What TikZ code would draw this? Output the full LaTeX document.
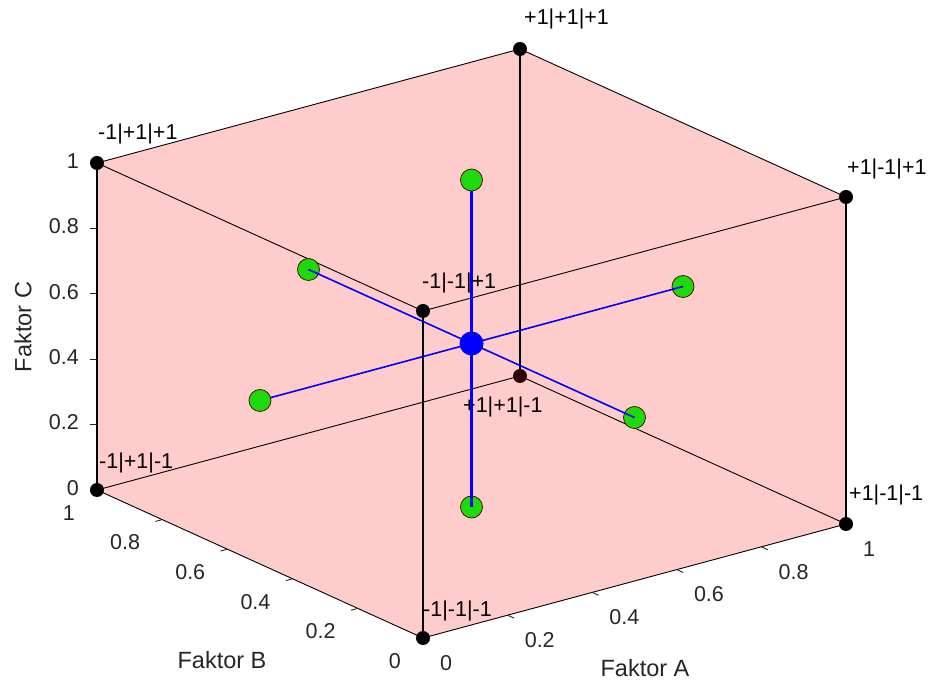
\documentclass[tikz,border=0pt]{standalone}
\usepackage{fontspec}
\setmainfont{Liberation Sans}
\definecolor{pinkface}{RGB}{255,204,204}
\definecolor{axgray}{RGB}{38,38,38}
\definecolor{greenfill}{RGB}{30,218,10}
\definecolor{greenedge}{RGB}{70,25,0}
\definecolor{hiddendot}{RGB}{45,5,5}
\begin{document}
\begin{tikzpicture}[x={(423pt,114pt)}, y={(-326pt,148pt)}, z={(0pt,327pt)},
  edge/.style={black, line width=0.9pt},
  vedge/.style={black, line width=1.3pt},
  tickmark/.style={axgray, line width=0.9pt},
  ticklabel/.style={text=axgray, inner sep=0pt, font=\fontsize{21.5pt}{24pt}\selectfont},
  axislabel/.style={text=axgray, inner sep=0pt, font=\fontsize{23.5pt}{26pt}\selectfont},
  vlabel/.style={text=black, inner sep=0pt, anchor=west, font=\fontsize{21.5pt}{24pt}\selectfont},
  vdot/.style={circle, fill=black, inner sep=0pt, minimum size=14pt},
  gdot/.style={circle, fill=greenfill, draw=greenedge, line width=0.8pt, inner sep=0pt, minimum size=22pt},
  cdot/.style={circle, fill=blue, inner sep=0pt, minimum size=24pt},
  blueline/.style={draw=blue, line width=1.6pt}]
\useasboundingbox (-423pt,-47pt) rectangle ++(931pt,685pt);

% cube vertices (A,B,C)
\coordinate (v000) at (0,0,0);
\coordinate (v100) at (1,0,0);
\coordinate (v010) at (0,1,0);
\coordinate (v110) at (1,1,0);
\coordinate (v001) at (0,0,1);
\coordinate (v101) at (1,0,1);
\coordinate (v011) at (0,1,1);
\coordinate (v111) at (1,1,1);

% star points
\coordinate (sc) at (0.5,0.5,0.5);
\coordinate (pup) at (0.5,0.5,1);
\coordinate (pdown) at (0.5,0.5,0);
\coordinate (sleft) at (0,0.5,0.5);
\coordinate (sright) at (1,0.5,0.5);
\coordinate (sback) at (0.5,1,0.5);
\coordinate (sfront) at (0.5,0,0.5);

% translucent faces
\fill[pinkface] (v011) -- (v111) -- (v101) -- (v100) -- (v000) -- (v010) -- cycle;

% edges
\draw[edge] (v011) -- (v111) -- (v101) -- (v001) -- cycle;
\draw[edge] (v010) -- (v110) -- (v100) -- (v000) -- cycle;
\draw[vedge] (v000) -- (v001);
\draw[vedge] (v100) -- (v101);
\draw[vedge] (v010) -- (v011);
\draw[vedge] (v110) -- (v111);

% ticks and tick labels
\foreach \t/\l [count=\i] in {0/0,0.2/0.2,0.4/0.4,0.6/0.6,0.8/0.8,1/1} {
  \coordinate (tc\i) at (0,1,\t);
  \coordinate (tb\i) at (0,\t,0);
  \coordinate (ta\i) at (\t,0,0);
  \draw[tickmark] (tc\i) -- ++(-7pt,0pt);
  \draw[tickmark] (tb\i) -- ++(-6.8pt,-1.8pt);
  \draw[tickmark] (ta\i) -- ++(6.4pt,-2.9pt);
  \node[ticklabel, anchor=east, xshift=-18pt, yshift=2pt] (lc\i) at (tc\i) {\l};
  \node[ticklabel, anchor=east, xshift=-22pt, yshift=-23pt] (lb\i) at (tb\i) {\l};
  \node[ticklabel, anchor=west, xshift=17pt, yshift=-25pt] (la\i) at (ta\i) {\l};
}

% axis labels
\node[axislabel, rotate=90] (labC) at (-400pt,311pt) {Faktor C};
\node[axislabel] (labB) at (-201pt,-22pt) {Faktor B};
\node[axislabel] (labA) at (222pt,-30pt) {Faktor A};

% vertex dots
\node[vdot] (d000) at (v000) {};
\node[vdot] (d100) at (v100) {};
\node[vdot] (d010) at (v010) {};
\node[vdot, fill=hiddendot] (d110) at (v110) {};
\node[vdot] (d001) at (v001) {};
\node[vdot] (d101) at (v101) {};
\node[vdot] (d011) at (v011) {};
\node[vdot] (d111) at (v111) {};

% vertex labels
\node[vlabel, xshift=4pt, yshift=30pt] (l111) at (v111) {+1|+1|+1};
\node[vlabel, xshift=1pt, yshift=29pt] (l011) at (v011) {-1|+1|+1};
\node[vlabel, xshift=1pt, yshift=28pt] (l101) at (v101) {+1|-1|+1};
\node[vlabel, xshift=-1pt, yshift=28pt] (l001) at (v001) {-1|-1|+1};
\node[vlabel, xshift=-57pt, yshift=-31pt] (l110) at (v110) {+1|+1|-1};
\node[vlabel, xshift=2pt, yshift=27pt] (l010) at (v010) {-1|+1|-1};
\node[vlabel, xshift=3pt, yshift=29pt] (l100) at (v100) {+1|-1|-1};
\node[vlabel, xshift=0pt, yshift=27pt] (l000) at (v000) {-1|-1|-1};

% star points behind the lines
\node[gdot] (gdown) at (pdown) {};
\node[gdot] (gright) at (sright) {};
\node[gdot] (gback) at (sback) {};
\node[gdot] (gfront) at (sfront) {};

% blue axial lines
\draw[blueline, line width=2.2pt] (pup) -- (pdown);
\draw[blueline] (sleft) -- (sright);
\draw[blueline] (sback) -- (sfront);

% star points in front of the lines
\node[gdot] (gup) at (pup) {};
\node[gdot] (gleft) at (sleft) {};

% centre point
\node[cdot] (gc) at (sc) {};
\end{tikzpicture}
\end{document}
